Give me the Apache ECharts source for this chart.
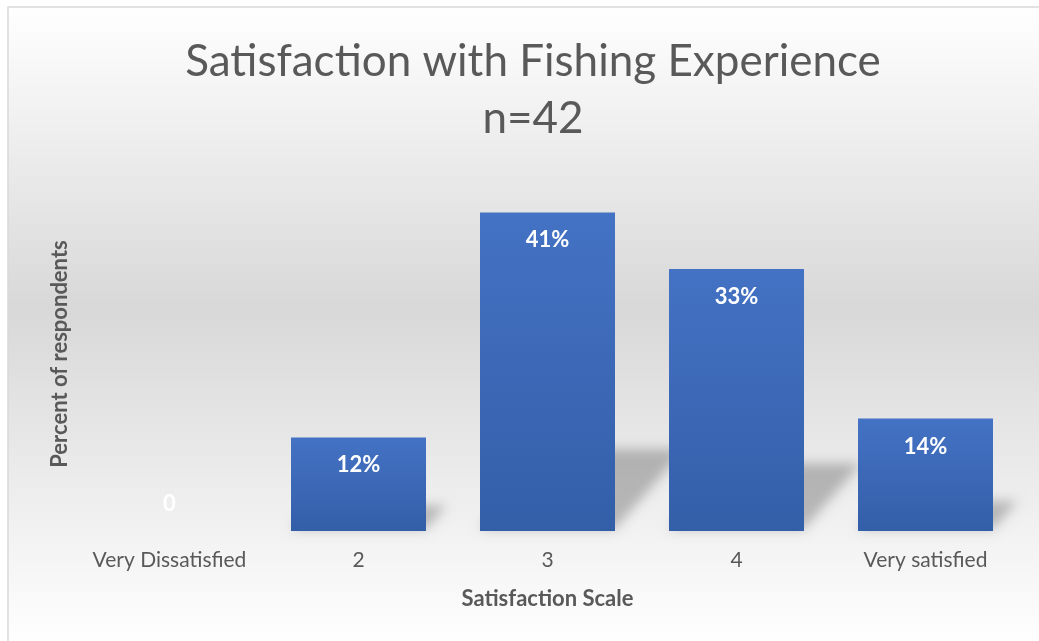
<!DOCTYPE html>
<html><head><meta charset="utf-8">
<script src="https://cdn.jsdelivr.net/npm/echarts@6/dist/echarts.min.js"></script>
<style>html,body{margin:0;padding:0;background:#fff;}#c{width:1039px;height:641px;}</style>
</head><body><div id="c"></div>
<script>
const titleLines = ['Satisfaction with Fishing Experience', 'n=42'];
const categories = ['Very Dissatisfied', '2', '3', '4', 'Very satisfied'];
const percents = [0, 11.9, 40.5, 33.3, 14.3];
const xAxisName = 'Satisfaction Scale';
const yAxisName = 'Percent of respondents';

const TEXT = '#595959';
const FONT = 'Lato, "Open Sans", "Noto Sans", sans-serif';

const chart = echarts.init(document.getElementById('c'), null, {renderer: 'canvas'});

const barData = percents.map(function (v) {
  if (v === 0) {
    return {value: v, label: {position: 'insideBottom', distance: 16}};
  }
  return v;
});

const shadowData = percents.map(function (v, i) { return [i, v]; });

const option = {
  animation: false,
  graphic: [{
    type: 'rect', z: -10, silent: true,
    shape: {x: 8, y: 7, width: 1040, height: 640},
    style: {
      fill: new echarts.graphic.LinearGradient(0, 0, 0, 1, [
        {offset: 0, color: '#ffffff'},
        {offset: 0.47, color: '#d8d8d8'},
        {offset: 1, color: '#ffffff'}
      ]),
      stroke: '#d9d9d9', lineWidth: 1.5
    }
  }],
  title: {
    text: titleLines.join('\n'),
    left: 528, top: 28, textAlign: 'center',
    textStyle: {fontFamily: FONT, fontWeight: 'normal', fontSize: 44, lineHeight: 57, color: TEXT}
  },
  grid: {left: 75, right: 19, top: 177, bottom: 110},
  xAxis: {
    type: 'category', data: categories,
    axisLine: {show: false}, axisTick: {show: false},
    axisLabel: {color: TEXT, fontFamily: FONT, fontSize: 21, margin: 19, interval: 0, hideOverlap: false},
    name: xAxisName, nameLocation: 'middle', nameGap: 57,
    nameTextStyle: {color: TEXT, fontFamily: FONT, fontWeight: 'bold', fontSize: 22}
  },
  yAxis: {
    type: 'value', min: 0, max: 45,
    axisLine: {show: false}, axisTick: {show: false}, axisLabel: {show: false},
    splitLine: {show: false},
    name: yAxisName, nameLocation: 'middle', nameGap: 4, nameRotate: 90,
    nameTextStyle: {color: TEXT, fontFamily: FONT, fontWeight: 'bold', fontSize: 22}
  },
  series: [{
    type: 'custom', z: 1, clip: false, silent: true,
    data: shadowData,
    renderItem: function (params, api) {
      const v = api.value(1);
      if (!v) return null;
      const base = api.coord([api.value(0), 0]);
      const top = api.coord([api.value(0), v]);
      const hw = 67.5;
      const h = base[1] - top[1];
      const hs = 0.25 * h;
      const dx = 0.87 * hs;
      const off = 3000;
      const x0 = base[0] - hw, x1 = base[0] + hw, y0 = base[1] - 2;
      return {
        type: 'polygon',
        shape: {points: [
          [x0 - off, y0], [x1 - off, y0],
          [x1 + dx - off, y0 - hs], [x0 + dx - off, y0 - hs]
        ]},
        style: {fill: '#000', shadowColor: 'rgba(0,0,0,0.24)', shadowBlur: 12, shadowOffsetX: off, shadowOffsetY: 0}
      };
    }
  }, {
    type: 'bar', z: 2, barWidth: 135,
    data: barData,
    itemStyle: {
      color: new echarts.graphic.LinearGradient(0, 0, 0, 1, [
        {offset: 0, color: '#4472c4'},
        {offset: 1, color: '#335ea8'}
      ])
    },
    label: {
      show: true, position: 'insideTop', distance: 17,
      color: '#ffffff', fontFamily: FONT, fontWeight: 'bold', fontSize: 22,
      formatter: function (p) { return p.value === 0 ? '0' : Math.round(p.value) + '%'; }
    }
  }]
};
chart.setOption(option);
</script>
</body></html>
